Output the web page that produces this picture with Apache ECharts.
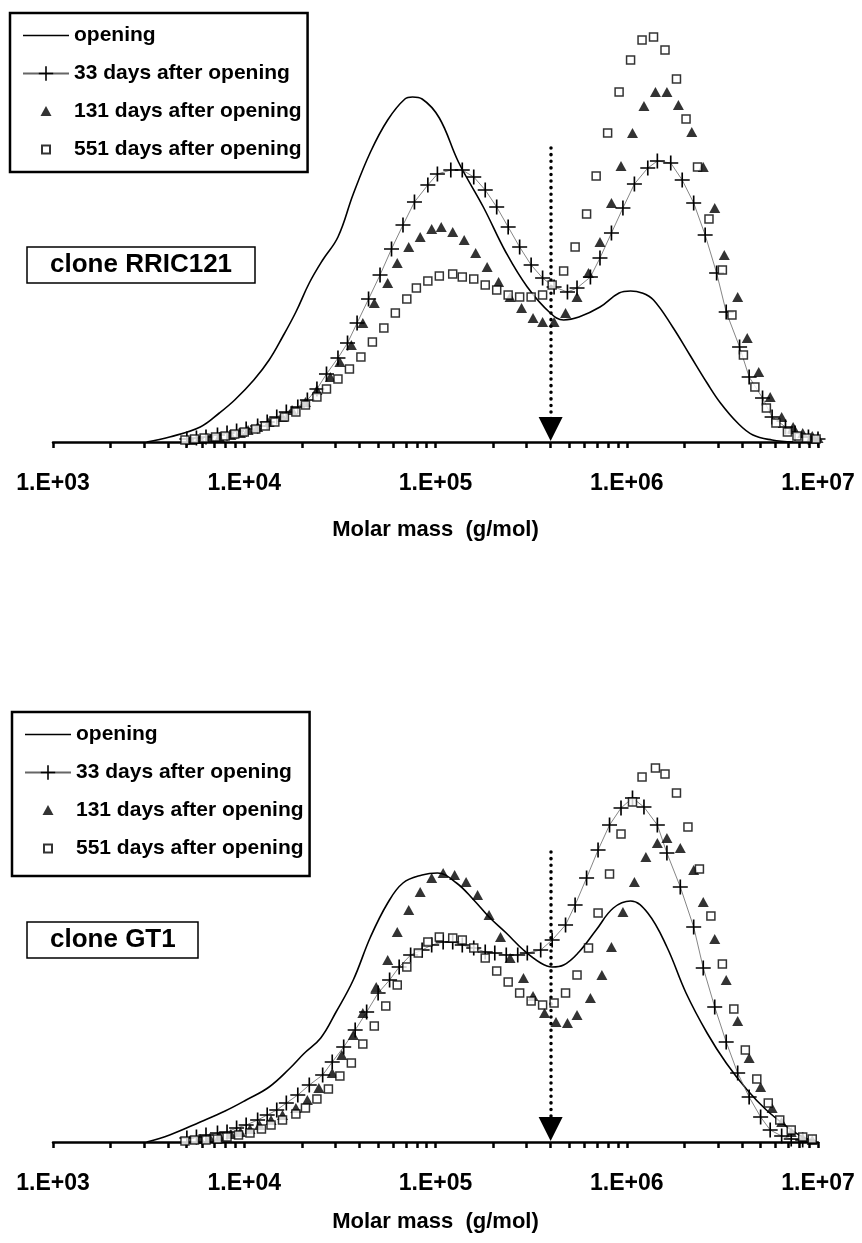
<!DOCTYPE html>
<html><head><meta charset="utf-8">
<script src="https://cdn.jsdelivr.net/npm/echarts@6/dist/echarts.min.js"></script>
<style>html,body{margin:0;padding:0;background:#fff}#c{width:862px;height:1243px}</style>
</head><body><div id="c"></div>
<script>
// x = log10(molar mass, g/mol), y = relative weight fraction (arbitrary units)
const seriesNames = ['opening', '33 days after opening', '131 days after opening', '551 days after opening'];
const panelLabels = ['clone RRIC121', 'clone GT1'];
const majorTickMasses = [1e3, 1e4, 1e5, 1e6, 1e7];
const tickLabels = ['1.E+03', '1.E+04', '1.E+05', '1.E+06', '1.E+07'];
const axisName = 'Molar mass  (g/mol)';
const arrowMass = 4e5;
const arrowTop = [2.94, 2.90];

// ---------- clone RRIC121 ----------
const openingA = [[3.49,0],[3.61,0.05],[3.77,0.15],[3.87,0.29],[3.95,0.42],[4.05,0.62],[4.13,0.82],[4.20,1.05],[4.27,1.30],[4.34,1.59],[4.41,1.82],[4.49,2.05],[4.57,2.48],[4.66,2.90],[4.75,3.22],[4.84,3.43],[4.88,3.45],[4.93,3.43],[5.02,3.24],[5.12,2.80],[5.25,2.35],[5.37,1.89],[5.48,1.55],[5.60,1.29],[5.67,1.22],[5.75,1.25],[5.86,1.35],[5.96,1.49],[6.02,1.51],[6.08,1.49],[6.14,1.42],[6.24,1.15],[6.33,0.87],[6.42,0.59],[6.49,0.39],[6.58,0.19],[6.66,0.07],[6.76,0.02],[6.87,0]];
const d33A = [[3.70,0.03],[3.75,0.04],[3.80,0.05],[3.86,0.07],[3.91,0.09],[3.96,0.11],[4.01,0.13],[4.07,0.16],[4.12,0.20],[4.17,0.25],[4.22,0.30],[4.28,0.35],[4.33,0.42],[4.38,0.53],[4.43,0.68],[4.49,0.84],[4.54,0.99],[4.59,1.19],[4.65,1.43],[4.71,1.67],[4.77,1.93],[4.83,2.17],[4.89,2.40],[4.96,2.57],[5.01,2.68],[5.08,2.72],[5.14,2.72],[5.20,2.65],[5.26,2.52],[5.32,2.35],[5.38,2.15],[5.44,1.95],[5.50,1.77],[5.56,1.64],[5.62,1.55],[5.69,1.50],[5.74,1.54],[5.81,1.65],[5.86,1.84],[5.92,2.09],[5.98,2.34],[6.04,2.58],[6.11,2.74],[6.16,2.81],[6.23,2.79],[6.29,2.62],[6.35,2.39],[6.41,2.07],[6.47,1.69],[6.52,1.30],[6.59,0.95],[6.64,0.65],[6.71,0.44],[6.76,0.25],[6.83,0.15],[6.88,0.09],[6.95,0.05],[7.00,0.03]];
const d131A = [[3.72,0.02],[3.77,0.03],[3.82,0.04],[3.87,0.05],[3.93,0.07],[3.98,0.09],[4.02,0.12],[4.07,0.15],[4.13,0.20],[4.20,0.25],[4.25,0.32],[4.32,0.40],[4.38,0.52],[4.45,0.65],[4.50,0.80],[4.56,0.97],[4.62,1.19],[4.68,1.39],[4.75,1.59],[4.80,1.79],[4.86,1.95],[4.92,2.05],[4.98,2.13],[5.03,2.15],[5.09,2.10],[5.15,2.02],[5.21,1.89],[5.27,1.75],[5.33,1.60],[5.39,1.45],[5.45,1.34],[5.51,1.24],[5.56,1.20],[5.62,1.20],[5.68,1.29],[5.74,1.45],[5.80,1.69],[5.86,2.00],[5.92,2.39],[5.97,2.76],[6.03,3.09],[6.09,3.36],[6.15,3.50],[6.21,3.50],[6.27,3.37],[6.34,3.10],[6.40,2.75],[6.46,2.34],[6.51,1.87],[6.58,1.45],[6.63,1.04],[6.69,0.70],[6.75,0.45],[6.81,0.25],[6.87,0.15],[6.92,0.09],[6.97,0.06],[7.00,0.04]];
const d551A = [[3.69,0.02],[3.74,0.03],[3.79,0.04],[3.85,0.05],[3.90,0.06],[3.95,0.08],[4.00,0.10],[4.06,0.13],[4.11,0.16],[4.16,0.20],[4.21,0.25],[4.27,0.30],[4.32,0.37],[4.38,0.45],[4.43,0.53],[4.49,0.63],[4.55,0.73],[4.61,0.85],[4.67,1.00],[4.73,1.14],[4.79,1.29],[4.85,1.43],[4.90,1.54],[4.96,1.61],[5.02,1.66],[5.09,1.68],[5.14,1.65],[5.20,1.63],[5.26,1.57],[5.32,1.52],[5.38,1.47],[5.44,1.45],[5.50,1.45],[5.56,1.47],[5.61,1.57],[5.67,1.71],[5.73,1.95],[5.79,2.28],[5.84,2.66],[5.90,3.09],[5.96,3.50],[6.02,3.82],[6.08,4.02],[6.14,4.05],[6.20,3.92],[6.26,3.63],[6.31,3.23],[6.37,2.75],[6.43,2.23],[6.50,1.72],[6.55,1.27],[6.61,0.87],[6.67,0.55],[6.73,0.34],[6.78,0.19],[6.84,0.10],[6.89,0.06],[6.94,0.04],[6.99,0.03]];

// ---------- clone GT1 ----------
const openingB = [[3.49,0],[3.61,0.07],[3.77,0.20],[3.90,0.31],[4.01,0.42],[4.13,0.55],[4.24,0.74],[4.31,0.88],[4.40,1.04],[4.48,1.30],[4.57,1.62],[4.66,2.05],[4.75,2.39],[4.83,2.59],[4.93,2.67],[5.01,2.69],[5.11,2.59],[5.20,2.42],[5.28,2.25],[5.37,2.09],[5.46,1.92],[5.55,1.79],[5.61,1.75],[5.67,1.77],[5.75,1.90],[5.84,2.12],[5.93,2.34],[6.02,2.41],[6.11,2.29],[6.21,1.95],[6.31,1.49],[6.42,1.09],[6.52,0.79],[6.63,0.52],[6.73,0.32],[6.84,0.15],[6.92,0.05],[6.99,0.01]];
const d33B = [[3.70,0.04],[3.75,0.05],[3.80,0.07],[3.86,0.09],[3.91,0.10],[3.96,0.14],[4.01,0.17],[4.07,0.22],[4.12,0.27],[4.17,0.32],[4.22,0.39],[4.28,0.47],[4.34,0.57],[4.41,0.67],[4.46,0.80],[4.52,0.95],[4.58,1.12],[4.64,1.30],[4.70,1.49],[4.76,1.62],[4.81,1.75],[4.87,1.87],[4.93,1.92],[4.98,1.97],[5.04,2.00],[5.09,2.00],[5.14,1.97],[5.20,1.94],[5.26,1.90],[5.31,1.89],[5.37,1.87],[5.43,1.87],[5.48,1.89],[5.55,1.92],[5.61,2.02],[5.68,2.17],[5.73,2.37],[5.79,2.64],[5.85,2.92],[5.91,3.17],[5.97,3.34],[6.03,3.44],[6.09,3.35],[6.16,3.17],[6.21,2.89],[6.28,2.55],[6.35,2.15],[6.40,1.74],[6.46,1.35],[6.52,1.00],[6.58,0.69],[6.64,0.45],[6.70,0.25],[6.75,0.12],[6.81,0.06],[6.86,0.03],[6.92,0.02]];
const d131B = [[3.77,0.03],[3.82,0.04],[3.87,0.06],[3.93,0.08],[3.98,0.10],[4.03,0.13],[4.08,0.17],[4.14,0.22],[4.20,0.27],[4.27,0.34],[4.33,0.42],[4.39,0.54],[4.46,0.69],[4.51,0.87],[4.57,1.07],[4.62,1.29],[4.69,1.55],[4.75,1.82],[4.80,2.10],[4.86,2.32],[4.92,2.50],[4.98,2.64],[5.04,2.69],[5.10,2.67],[5.16,2.60],[5.22,2.47],[5.28,2.27],[5.34,2.05],[5.39,1.84],[5.46,1.64],[5.51,1.46],[5.57,1.29],[5.63,1.20],[5.69,1.19],[5.74,1.27],[5.81,1.44],[5.87,1.67],[5.92,1.95],[5.98,2.30],[6.04,2.60],[6.10,2.85],[6.16,2.99],[6.21,3.04],[6.28,2.94],[6.35,2.72],[6.40,2.40],[6.46,2.03],[6.52,1.62],[6.58,1.21],[6.64,0.84],[6.70,0.55],[6.76,0.34],[6.81,0.20],[6.86,0.10],[6.92,0.04],[6.97,0.02]];
const d551B = [[3.69,0.01],[3.74,0.02],[3.80,0.02],[3.86,0.03],[3.91,0.05],[3.97,0.07],[4.03,0.09],[4.09,0.13],[4.14,0.17],[4.20,0.22],[4.27,0.28],[4.32,0.34],[4.38,0.43],[4.44,0.53],[4.50,0.66],[4.56,0.79],[4.62,0.98],[4.68,1.16],[4.74,1.36],[4.80,1.57],[4.85,1.75],[4.91,1.89],[4.96,2.00],[5.02,2.05],[5.09,2.04],[5.14,2.02],[5.20,1.94],[5.26,1.84],[5.32,1.71],[5.38,1.60],[5.44,1.49],[5.50,1.41],[5.56,1.37],[5.62,1.39],[5.68,1.49],[5.74,1.67],[5.80,1.94],[5.85,2.29],[5.91,2.68],[5.97,3.08],[6.03,3.40],[6.08,3.65],[6.15,3.74],[6.20,3.68],[6.26,3.49],[6.32,3.15],[6.38,2.73],[6.44,2.26],[6.50,1.78],[6.56,1.33],[6.62,0.92],[6.68,0.63],[6.74,0.39],[6.80,0.22],[6.86,0.12],[6.92,0.05],[6.97,0.03]];

const panels = [
  { opening: openingA, d33: d33A, d131: d131A, d551: d551A },
  { opening: openingB, d33: d33B, d131: d131B, d551: d551B }
];

const F = "'Liberation Sans', Arial, sans-serif";
const tickValues = [];
for (let d = 3; d < 7; d++) for (let k = 1; k <= 9; k++) tickValues.push(Math.log10(k) + d);
tickValues.push(7);
const majorLogs = majorTickMasses.map(m => Math.round(Math.log10(m)));

const plusPath = 'path://M0,4.45L10,4.45L10,5.55L0,5.55Z M4.45,0L5.55,0L5.55,10L4.45,10Z';
const lineIcon = 'path://M0,8.3L46,8.3L46,9.7L0,9.7Z';
const triIcon = 'path://M0,0M18,18M9,3.5L14.5,13.5L3.5,13.5Z';
const sqIcon = 'path://M0,0M18,18M5,5L13,5L13,13L5,13Z';

const gridTops = [12, 712];
const grids = gridTops.map(t => ({ left: 53, right: 44, top: t, height: 430 }));

const xAxes = [];
const yAxes = [];
gridTops.forEach((t, i) => {
  xAxes.push({
    type: 'value', gridIndex: i, min: 3, max: 7, interval: 1,
    name: axisName, nameLocation: 'middle', nameGap: i === 0 ? 77 : 69,
    nameTextStyle: { fontFamily: F, fontWeight: 'bold', fontSize: 22, color: '#000' },
    axisLine: { show: true, onZero: false, lineStyle: { color: '#000', width: 2.5 } },
    axisTick: { show: true, customValues: tickValues, length: 6, inside: false, lineStyle: { color: '#000', width: 2.5 } },
    axisLabel: {
      show: true, margin: 30, fontFamily: F, fontWeight: 'bold', fontSize: 23, color: '#000',
      customValues: majorLogs,
      formatter: v => tickLabels[majorLogs.indexOf(Math.round(v))]
    },
    splitLine: { show: false }
  });
  xAxes.push({
    type: 'value', gridIndex: i, min: 3, max: 7, interval: 1,
    axisLine: { show: false },
    axisTick: { show: true, customValues: tickValues, length: 6, inside: true, lineStyle: { color: '#000', width: 2.5 } },
    axisLabel: { show: false }, splitLine: { show: false }
  });
  yAxes.push({ type: 'value', gridIndex: i, min: 0, max: 4.3, show: false, splitLine: { show: false } });
});

const series = [];
panels.forEach((p, i) => {
  const xi = i * 2;
  series.push({
    name: seriesNames[0], type: 'line', xAxisIndex: xi, yAxisIndex: i,
    data: p.opening, smooth: 0.4, symbol: 'none', z: 2,
    lineStyle: { color: '#000', width: 1.6 }, itemStyle: { color: '#000' },
    animation: false,
    markLine: {
      silent: true, animation: false, symbol: ['none', 'triangle'], symbolSize: 24,
      label: { show: false },
      lineStyle: { color: '#000', width: 3.5, type: [0.1, 6.5], cap: 'round' },
      data: [[{ coord: [Math.log10(arrowMass), arrowTop[i]] }, { coord: [Math.log10(arrowMass), 0.13] }]]
    }
  });
  series.push({
    name: seriesNames[1], type: 'line', xAxisIndex: xi, yAxisIndex: i,
    data: p.d33, symbol: plusPath, symbolSize: 15, showAllSymbol: true, z: 3,
    lineStyle: { color: '#666', width: 0.8 }, itemStyle: { color: '#000' }, animation: false
  });
  series.push({
    name: seriesNames[2], type: 'scatter', xAxisIndex: xi, yAxisIndex: i,
    data: p.d131, symbol: 'triangle', symbolSize: [11, 10], z: 4,
    itemStyle: { color: '#000' }, animation: false
  });
  series.push({
    name: seriesNames[3], type: 'scatter', xAxisIndex: xi, yAxisIndex: i,
    data: p.d551, symbol: 'rect', symbolSize: 8, z: 5,
    itemStyle: { color: '#fff', borderColor: '#000', borderWidth: 1.5 }, animation: false
  });
});

const legendTops = [13, 712];
const legends = legendTops.map((t, i) => ({
  orient: 'vertical', left: 10 + i * 2, top: t, itemWidth: 46, itemHeight: 18, itemGap: 17,
  padding: [12, 6, 12 + i * 5, 12], borderColor: '#000', borderWidth: 2.5, selectedMode: false,
  textStyle: { fontFamily: F, fontWeight: 'bold', fontSize: 21, color: '#000' },
  data: [
    { name: seriesNames[0], icon: lineIcon },
    { name: seriesNames[1] },
    { name: seriesNames[2], icon: triIcon },
    { name: seriesNames[3], icon: sqIcon }
  ]
}));

const labelTops = [247, 922];
const titles = labelTops.map((t, i) => ({
  text: panelLabels[i], left: 27, top: t, padding: [5, 23, 5, 23], borderColor: '#000', borderWidth: 1.5,
  textStyle: { fontFamily: F, fontWeight: 'bold', fontSize: 26, color: '#000' }
}));

const chart = echarts.init(document.getElementById('c'), null, { renderer: 'canvas' });
chart.setOption({
  backgroundColor: '#fff',
  animation: false,
  title: titles,
  legend: legends,
  grid: grids,
  xAxis: xAxes,
  yAxis: yAxes,
  series: series
});
</script></body></html>
